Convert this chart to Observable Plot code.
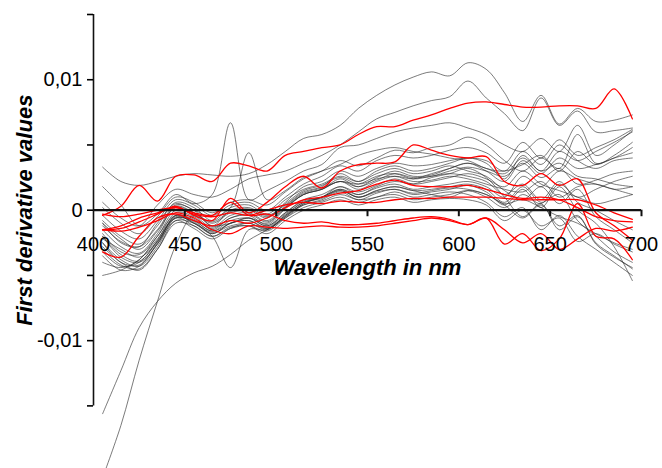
<!DOCTYPE html>
<html>
<head>
<meta charset="utf-8">
<script src="https://cdn.jsdelivr.net/npm/d3@7"></script>
<script src="https://cdn.jsdelivr.net/npm/@observablehq/plot@0.6"></script>
<style>
  html, body { margin: 0; padding: 0; background: white; }
</style>
</head>
<body>
<div id="chart"></div>
<script>
// Wavelength grid (nm)
const wavelengths = [405, 415, 425, 435, 445, 455, 465, 475, 485, 495, 505, 515, 525, 535, 545, 555, 565, 575, 585, 595, 605, 615, 625, 635, 645, 655, 665, 675, 685, 695];

// First derivative values, in units of 0.001
const g01 = [3.3, 2.2, 1.9, 2.2, 2.6, 2.8, 2.7, 2.6, 2.8, 3.5, 4.5, 5.5, 5.8, 6.5, 7.8, 8.8, 9.6, 10.2, 10.6, 10.3, 11.3, 10.8, 9.0, 6.8, 8.8, 6.6, 7.8, 6.8, 6.9, 7.3];
const g02 = [0.6, -0.6, -1.2, 0.4, 1.6, 1.2, 1.0, 1.6, 2.4, 2.7, 3.0, 3.6, 4.2, 5.0, 6.0, 7.0, 7.5, 8.0, 8.4, 8.7, 9.9, 8.6, 7.4, 6.1, 8.6, 6.5, 7.6, 6.0, 6.1, 6.3];
const g03 = [1.8, 0.4, -1.2, -0.3, 1.2, 0.5, 1.2, 6.7, 0.8, 1.5, 2.2, 3.0, 3.5, 4.8, 5.0, 5.5, 6.0, 6.3, 6.5, 6.7, 6.3, 5.8, 5.0, 4.5, 5.5, 4.5, 6.5, 4.2, 5.0, 6.1];
const g04 = [-1.0, -2.5, -2.8, -1.0, 0.5, 0.0, -0.5, 0.2, 4.4, 0.8, 1.5, 2.5, 3.0, 3.5, 4.2, 4.6, 4.8, 4.5, 4.3, 4.0, 3.8, 3.2, 3.0, 3.5, 4.2, 3.0, 4.5, 3.5, 4.2, 5.2];
const g05 = [-2.5, -4.0, -4.2, -2.5, -0.5, -1.0, -2.0, -4.4, -1.5, -1.5, -0.5, 0.5, 1.0, 1.8, 1.2, 1.8, 2.2, 2.0, 2.5, 2.8, 3.2, 2.5, 1.0, -0.5, 0.5, -1.5, -0.5, -2.5, -3.5, -4.5];
const g06 = [-2.0, -3.4, -3.9, -2.3, -0.2, -0.5, -1.5, -0.6, -0.4, -1.1, 0.1, 1.2, 1.6, 2.4, 1.8, 2.5, 3.0, 2.6, 2.7, 3.2, 3.6, 3.0, 2.2, 3.8, 2.8, 4.0, 3.2, 3.5, 4.0, 4.8];
const g07 = [-1.5, -2.8, -3.3, -1.8, 0.3, -0.2, -1.0, -0.2, 0.0, -0.6, 0.6, 1.8, 2.2, 3.0, 2.6, 3.2, 3.6, 3.4, 3.5, 3.8, 4.0, 3.8, 3.0, 4.5, 3.5, 5.0, 3.8, 3.2, 3.8, 4.0];
const g08 = [-3.0, -4.2, -4.5, -3.0, -1.0, -1.2, -2.0, -1.3, -1.2, -1.6, -0.6, 0.4, 0.8, 1.4, 0.8, 1.3, 1.6, 1.2, 1.4, 1.6, 1.9, 1.4, 0.4, 1.6, 0.2, 1.8, 0.0, -1.0, -2.8, -5.4];
const g09 = [-0.8, -2.0, -2.6, -1.2, 0.6, 0.2, -0.8, 0.2, 0.4, -0.3, 0.8, 1.6, 2.0, 2.6, 2.2, 2.8, 3.2, 2.8, 3.0, 3.4, 3.0, 2.6, 1.5, 0.8, 1.8, 0.5, 1.6, -0.5, -1.5, -2.5];
const g10 = [-2.5, -3.8, -4.3, -2.8, -0.6, -0.9, -1.8, -1.0, -0.8, -1.3, -0.3, 0.6, 1.0, 1.6, 1.2, 1.7, 2.0, 1.6, 1.8, 2.0, 2.2, 1.8, 1.0, 2.6, 1.8, 3.0, 2.4, 2.0, 1.6, 1.2];
const g11 = [-3.5, -4.6, -4.3, -2.6, -0.8, -1.4, -2.2, -1.4, -1.0, -1.5, -0.4, 0.4, 0.7, 1.2, 0.8, 1.0, 1.4, 1.0, 1.2, 1.4, 1.2, 0.6, -0.5, 0.2, -1.5, -0.4, -2.0, -3.0, -4.0, -5.0];
const g12 = [-1.2, -2.4, -2.8, -1.5, 0.4, 0.0, -1.2, 0.0, 0.2, -0.4, 0.4, 1.4, 1.8, 2.8, 2.2, 3.0, 3.4, 3.0, 3.2, 3.6, 4.0, 3.6, 2.4, 4.2, 3.0, 4.5, 3.8, 4.5, 5.2, 6.0];
const g13 = [-2.2, -3.0, -3.6, -2.4, -0.4, -0.8, -1.6, -0.8, -0.6, -1.2, -0.2, 0.8, 1.2, 1.8, 1.4, 1.9, 2.4, 2.0, 2.2, 2.5, 2.8, 2.4, 1.8, 3.0, 2.0, 1.5, 1.0, 0.5, 0.8, 1.2];
const g14 = [-4.0, -4.4, -3.8, -2.0, -0.4, -1.0, -1.8, -1.0, -0.8, -1.4, -0.6, 0.2, 0.6, 1.0, 0.6, 1.0, 1.2, 0.8, 1.0, 1.2, 1.5, 1.0, 0.2, 1.2, 0.5, 2.0, 1.0, 1.6, 2.2, 2.6];
const g15 = [-1.8, -3.2, -3.4, -2.0, 0.0, -0.4, -1.3, -0.4, -0.2, -0.8, 0.3, 1.3, 1.7, 2.2, 2.0, 2.6, 2.8, 2.4, 2.6, 2.8, 2.6, 2.2, 1.2, 2.0, 0.8, 2.2, 0.6, 0.0, -0.8, -1.5];
const g16 = [-2.8, -4.0, -4.6, -3.0, -0.8, -1.0, -1.7, -1.2, -1.0, -1.4, -0.4, 0.6, 0.9, 1.5, 1.0, 1.5, 1.8, 1.5, 1.6, 1.8, 2.0, 1.6, 0.6, 1.8, 0.6, 1.2, -0.8, -2.0, -3.2, -4.0];
const g17 = [-0.4, -1.6, -2.2, -0.8, 0.8, 0.4, -0.4, 0.4, 0.6, 0.0, 1.0, 2.0, 2.6, 3.4, 3.0, 3.8, 4.2, 4.0, 4.2, 4.6, 4.8, 4.4, 3.6, 5.2, 4.0, 5.4, 4.2, 4.8, 5.4, 6.2];
const g18 = [-5.0, -4.6, -3.8, -2.2, -0.6, -1.2, -2.0, -1.4, -1.2, -1.8, -0.8, 0.0, 0.4, 0.8, 0.4, 0.8, 1.0, 0.6, 0.8, 0.9, 0.8, 0.4, -0.8, 0.0, -1.2, -0.6, -2.4, -1.8, -2.6, -3.2];
const g19 = [-1.0, -2.2, -3.0, -1.6, 0.2, -0.2, -0.9, -0.1, 0.1, -0.5, 0.5, 1.5, 1.9, 2.5, 2.0, 2.4, 2.6, 2.2, 2.3, 2.6, 2.4, 2.0, 1.6, 1.4, 2.2, 1.0, 1.8, 2.0, 1.6, 1.8];
const g20 = [-3.2, -4.3, -4.0, -2.4, -0.6, -0.8, -1.6, -1.0, -0.6, -1.2, -0.2, 0.7, 1.0, 1.6, 1.0, 1.4, 1.6, 1.3, 1.5, 1.7, 1.6, 1.2, 0.4, -0.6, 0.4, -1.2, -0.4, -2.6, -3.6, -4.4];
const g21 = [-2.0, -3.6, -4.0, -2.6, -0.4, -0.7, -1.4, -0.6, -0.3, -0.9, 0.2, 1.2, 1.6, 2.2, 1.6, 2.2, 2.6, 2.4, 2.8, 3.2, 3.6, 3.2, 2.8, 4.0, 3.0, 3.6, 2.6, 2.4, 2.0, 1.8];
const g22 = [0.2, -1.0, -1.8, -0.5, 1.0, 0.6, -0.2, 0.6, 0.8, 0.4, 1.4, 2.4, 3.0, 3.8, 3.4, 4.0, 4.6, 4.4, 4.8, 5.0, 5.6, 5.0, 3.8, 3.0, 4.0, 3.2, 5.8, 3.6, 4.0, 4.4];
const g23 = [-15.6, -12.3, -9.0, -7.0, -5.6, -4.8, -4.3, -3.4, -2.3, -1.5, -0.5, 0.5, 1.0, 1.5, 1.0, 1.5, 1.8, 1.5, 1.2, 1.0, 1.5, 1.2, 0.5, 0.8, 0.2, -0.5, -1.0, -1.8, -2.5, -3.0];
const g24 = [-20.5, -16.5, -11.5, -7.0, -2.7, -0.4, -1.2, -1.0, -0.6, -1.0, 0.2, 1.2, 1.6, 2.2, 1.8, 2.3, 2.8, 2.5, 2.6, 3.0, 3.3, 3.0, 2.6, 3.6, 2.5, 3.2, 2.0, 2.3, 2.8, 3.0];

const r01 = [-0.4, 0.3, 1.9, 0.7, 2.6, 2.7, 2.2, 3.6, 3.4, 3.0, 4.2, 4.5, 4.8, 5.0, 5.8, 6.4, 6.4, 6.9, 7.3, 7.8, 8.2, 8.3, 8.1, 7.9, 7.9, 8.0, 8.0, 7.8, 9.3, 7.0];
const r02 = [-1.5, -1.4, -0.9, -0.3, 0.3, -0.4, -0.8, 0.9, -0.2, 0.6, 1.8, 2.6, 1.7, 3.0, 3.5, 3.6, 3.7, 5.0, 4.6, 4.2, 4.0, 4.1, 2.2, 1.9, 2.8, 1.9, 2.4, -0.2, -1.2, -2.3];
const r03 = [-1.5, -1.2, -0.6, -0.2, 0.2, -0.3, -0.5, -0.2, -0.4, 0.0, 0.4, 0.6, 0.5, 0.7, 0.6, 0.6, 0.8, 0.9, 0.9, 1.0, 1.0, 1.0, 0.9, 0.8, 0.8, 0.8, 0.8, 0.4, -0.2, -0.7];
const r04 = [-1.5, -1.6, -1.3, -0.8, -0.2, -0.6, -1.5, -1.8, -1.2, -1.3, -1.4, -1.3, -1.2, -1.3, -1.3, -1.2, -1.0, -0.8, -0.6, -0.8, -1.1, -0.6, -1.5, -2.5, -1.8, -3.0, -2.2, -1.4, -1.6, -1.3];
const r05 = [-0.3, -0.5, -0.3, 0.0, 0.2, -0.2, -0.4, 0.6, -0.4, -0.3, -0.8, -1.0, -0.9, -1.1, -1.1, -1.0, -0.8, -0.6, -0.5, -0.7, -1.1, -0.6, -2.6, -1.8, -3.1, -2.2, 0.5, -2.0, -2.2, -3.8];
const r06 = [-3.2, -3.6, -2.0, -0.6, -0.3, -0.8, -1.2, -0.8, -1.0, -0.6, 0.2, 0.8, 1.0, 1.3, 1.5, 2.0, 2.3, 1.9, 1.8, 1.8, 1.9, 1.6, 1.2, 0.9, 1.0, 0.8, 0.2, -0.5, -0.8, -0.9];

const graySeries = [g01, g02, g03, g04, g05, g06, g07, g08, g09, g10, g11, g12, g13, g14, g15, g16, g17, g18, g19, g20, g21, g22, g23, g24];
const redSeries = [r01, r02, r03, r04, r05, r06];

// Axis ticks and labels
const xTickValues = [400, 450, 500, 550, 600, 650, 700];
const yTickValues = [-0.015, -0.01, -0.005, 0, 0.005, 0.01, 0.015];
const yTickLabels = ["", "-0,01", "", "0", "", "0,01", ""];
const xTitle = "Wavelength in nm";
const yTitle = "First derivative values";

function toRows(seriesList, prefix) {
  const rows = [];
  seriesList.forEach((vals, k) => {
    vals.forEach((v, i) => rows.push({id: prefix + k, nm: wavelengths[i], v: v / 1000}));
  });
  return rows;
}
const grayRows = toRows(graySeries, "g");
const redRows = toRows(redSeries, "r");

const font = "'Liberation Sans', Arial, Helvetica, sans-serif";

const chart = Plot.plot({
  width: 662,
  height: 468,
  marginLeft: 93,
  marginRight: 21,
  marginTop: 14,
  marginBottom: 0,
  style: {fontFamily: font, background: "white", color: "black", overflow: "visible"},
  x: {domain: [400, 700], axis: null},
  y: {domain: [-0.0198, 0.015], axis: null},
  marks: [
    Plot.line(grayRows, {x: "nm", y: "v", z: "id", stroke: "#2a2a2a", strokeOpacity: 0.62, strokeWidth: 1, curve: "catmull-rom", clip: true}),
    Plot.line(redRows, {x: "nm", y: "v", z: "id", stroke: "#ff0000", strokeWidth: 1.3, curve: "catmull-rom", clip: true}),
    Plot.ruleY([0], {x1: 400, x2: 700, stroke: "#111", strokeWidth: 2.2}),
    Plot.ruleX(xTickValues.slice(1), {y1: 0, y2: -0.0005, stroke: "#111", strokeWidth: 2}),
    Plot.text(xTickValues, {x: d => d, y: 0, dy: 34, text: d => String(d), fontSize: 20, fill: "black"}),
    Plot.ruleX([400], {y1: -0.015, y2: 0.015, stroke: "#111", strokeWidth: 1.6}),
    Plot.axisY(yTickValues, {anchor: "left", tickSize: 6, tickPadding: 5, fontSize: 20, strokeWidth: 1.6,
      tickFormat: d => yTickLabels[yTickValues.indexOf(d)], label: null}),
    Plot.text([xTitle], {x: 550, y: 0, dy: 58, text: d => d, fontSize: 22, fontWeight: "bold", fontStyle: "italic", fill: "black"}),
    Plot.text([yTitle], {x: 400, y: 0, dx: -69, rotate: -90, text: d => d, fontSize: 22, fontWeight: "bold", fontStyle: "italic", fill: "black"})
  ]
});
document.getElementById("chart").appendChild(chart);
</script>
</body>
</html>
